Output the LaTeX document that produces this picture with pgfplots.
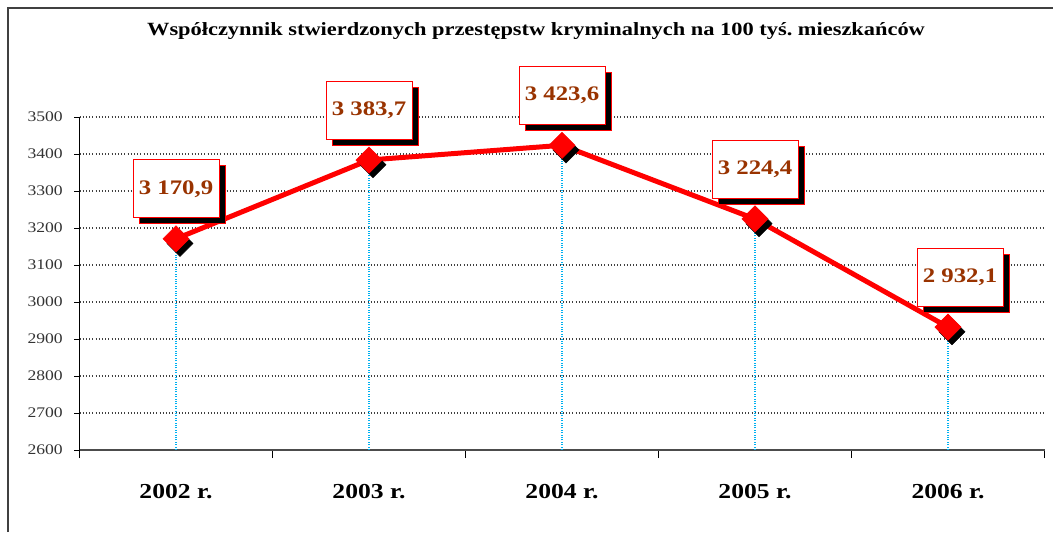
\documentclass[border=0pt]{standalone}
\usepackage{fontspec}
\setmainfont{Liberation Serif}[FakeStretch=1.2]
\usepackage{pgfplots}
\pgfplotsset{compat=1.18}
\usepackage{pgfplotstable}
\usetikzlibrary{shadows}
\definecolor{lblbrown}{RGB}{153,51,0}
\definecolor{dropblue}{RGB}{0,176,240}
\pgfplotstableread{
x y dx
0 3170.9 0
1 3383.7 0
2 3423.6 0
3 3224.4 0
4 2932.1 9
}\datatable
\frenchspacing
\begin{document}
\begin{tikzpicture}
\useasboundingbox (0,0) rectangle (789.75pt,399pt);
\draw[line width=1.5pt, black!75] (6pt,0) -- (6pt,393pt) -- (800pt,393pt);
\node[font=\bfseries\fontsize{14}{16}\selectfont] at (402pt,375.5pt) {Współczynnik stwierdzonych przestępstw kryminalnych na 100 tyś. mieszkańców};
\begin{axis}[
  at={(59.625pt,61.5pt)}, anchor=south west,
  scale only axis, width=723.75pt, height=249.75pt,
  xmin=-0.5, xmax=4.5, ymin=2600, ymax=3500,
  axis lines*=left,
  clip=false,
  ytick={2600,2700,...,3500},
  ymajorgrids,
  grid style={dotted, black!75, line width=0.8pt},
  xtick={0,1,2,3,4},
  xticklabels={2002 r.,2003 r.,2004 r.,2005 r.,2006 r.},
  major x tick style={draw=none},
  minor xtick={-0.5,0.5,1.5,2.5,3.5,4.5},
  tick align=outside,
  major tick length=4pt,
  minor tick length=6pt,
  tick style={black},
  x axis line style={black!70, line width=1pt},
  y axis line style={black, line width=0.6pt},
  xticklabel style={font=\bfseries\fontsize{16}{18}\selectfont, yshift=-18pt},
  yticklabel style={font=\fontsize{11}{13}\selectfont, text=black!80, xshift=-5pt},
  /pgf/number format/assume math mode=true,
  yticklabel={\pgfmathprintnumber[1000 sep={}]{\tick}},
]
\addplot[dropblue, densely dotted, line width=0.8pt] coordinates {(0,2600) (0,3170.9)};
\addplot[dropblue, densely dotted, line width=0.8pt] coordinates {(1,2600) (1,3383.7)};
\addplot[dropblue, densely dotted, line width=0.8pt] coordinates {(2,2600) (2,3423.6)};
\addplot[dropblue, densely dotted, line width=0.8pt] coordinates {(3,2600) (3,3224.4)};
\addplot[dropblue, densely dotted, line width=0.8pt] coordinates {(4,2600) (4,2932.1)};
\addplot[only marks, mark=square*, mark size=6.9pt, mark options={xshift=3pt, yshift=-3.5pt, rotate=45, fill=black, draw=black}] table[x=x,y=y]{\datatable};
\addplot[red, line width=3.75pt, mark=square*, mark size=6.9pt,
  mark options={rotate=45, solid, fill=red, draw=red, line width=0.5pt},
  point meta=\thisrow{y},
  visualization depends on={\thisrow{dx} \as \dx},
  nodes near coords={\pgfmathprintnumber[fixed,fixed zerofill,precision=1,use comma,1000 sep={\ },assume math mode=true]{\pgfplotspointmeta}},
  every node near coord/.append style={anchor=center, xshift=\dx pt, yshift=37.5pt,
    draw=red, fill=white, line width=0.6pt, minimum width=64.5pt, minimum height=43.5pt, inner sep=0pt,
    font=\bfseries\fontsize{15.5}{18}\selectfont, text=lblbrown,
    drop shadow={shadow xshift=4.5pt, shadow yshift=-4.5pt, opacity=1, fill=black}},
] table[x=x,y=y]{\datatable};
\end{axis}
\end{tikzpicture}
\end{document}
